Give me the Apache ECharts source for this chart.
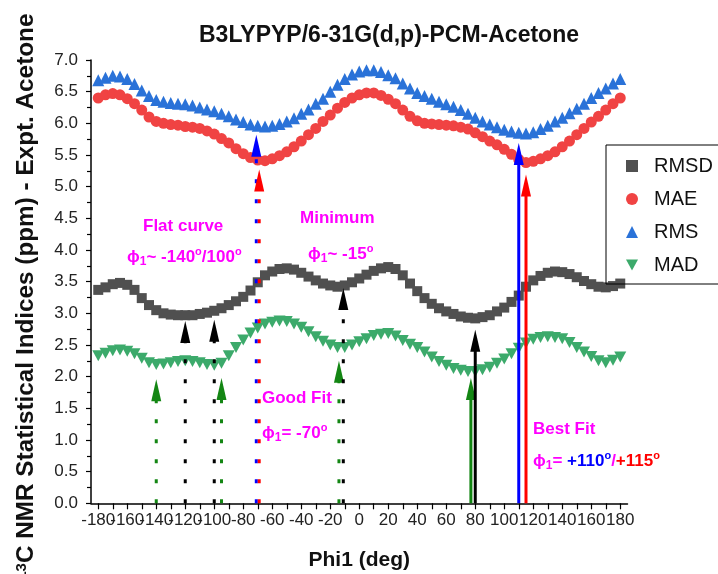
<!DOCTYPE html>
<html>
<head>
<meta charset="utf-8">
<script src="https://cdn.jsdelivr.net/npm/echarts@6/dist/echarts.min.js"></script>
<style>
  html, body { margin: 0; padding: 0; background: #fff; }
  #chart { width: 718px; height: 574px; }
</style>
</head>
<body>
<div id="chart"></div>
<script>
// Dihedral angle Phi1 (deg), scanned every 5 degrees
var phi = [-180,-175,-170,-165,-160,-155,-150,-145,-140,-135,-130,-125,-120,-115,-110,-105,-100,-95,-90,-85,-80,-75,-70,-65,-60,-55,-50,-45,-40,-35,-30,-25,-20,-15,-10,-5,0,5,10,15,20,25,30,35,40,45,50,55,60,65,70,75,80,85,90,95,100,105,110,115,120,125,130,135,140,145,150,155,160,165,170,175,180];

// Statistical indices (ppm) vs. experimental shifts in acetone
var rmsd = [3.37,3.41,3.46,3.48,3.45,3.37,3.24,3.13,3.05,3.00,2.98,2.97,2.97,2.97,2.99,3.01,3.04,3.08,3.13,3.19,3.26,3.36,3.49,3.60,3.66,3.70,3.71,3.69,3.64,3.58,3.52,3.47,3.44,3.42,3.44,3.49,3.55,3.61,3.67,3.71,3.73,3.70,3.60,3.47,3.35,3.24,3.15,3.08,3.03,2.99,2.95,2.93,2.92,2.94,2.97,3.03,3.09,3.18,3.28,3.42,3.52,3.59,3.64,3.66,3.65,3.62,3.57,3.51,3.46,3.42,3.41,3.43,3.47];
var mae = [6.40,6.45,6.47,6.45,6.39,6.31,6.21,6.10,6.03,6.00,5.98,5.97,5.95,5.94,5.92,5.88,5.83,5.76,5.69,5.60,5.52,5.46,5.42,5.41,5.44,5.49,5.55,5.63,5.72,5.82,5.92,6.03,6.13,6.24,6.33,6.40,6.45,6.48,6.48,6.44,6.38,6.31,6.21,6.11,6.04,6.00,5.99,5.98,5.97,5.96,5.94,5.91,5.85,5.79,5.72,5.66,5.59,5.51,5.43,5.38,5.40,5.44,5.49,5.55,5.63,5.72,5.82,5.92,6.02,6.11,6.21,6.31,6.40];
var rms = [6.68,6.72,6.75,6.74,6.70,6.62,6.52,6.43,6.37,6.34,6.32,6.31,6.30,6.28,6.25,6.22,6.19,6.15,6.11,6.06,6.02,5.98,5.96,5.95,5.96,5.99,6.03,6.08,6.15,6.22,6.31,6.39,6.50,6.61,6.70,6.77,6.82,6.84,6.84,6.81,6.76,6.71,6.63,6.55,6.48,6.43,6.39,6.34,6.30,6.26,6.21,6.15,6.09,6.03,5.98,5.94,5.90,5.87,5.85,5.84,5.86,5.91,5.96,6.03,6.09,6.16,6.23,6.31,6.40,6.48,6.55,6.63,6.70];
var mad = [2.33,2.37,2.41,2.42,2.40,2.36,2.29,2.22,2.19,2.20,2.22,2.24,2.25,2.24,2.22,2.19,2.18,2.21,2.33,2.46,2.58,2.69,2.77,2.83,2.86,2.88,2.87,2.83,2.78,2.71,2.63,2.56,2.50,2.46,2.46,2.50,2.55,2.60,2.65,2.67,2.68,2.64,2.57,2.51,2.46,2.39,2.31,2.24,2.18,2.13,2.10,2.08,2.08,2.11,2.15,2.21,2.28,2.36,2.45,2.53,2.59,2.62,2.63,2.62,2.60,2.54,2.46,2.39,2.32,2.25,2.22,2.26,2.31];

// Marker arrows pointing at the minima of each index
var arrowPhi    = [-140, -120, -100, -95, -71, -69, -14, -11, 77, 80, 110, 115];
var arrowTip    = [1.96, 2.88, 2.90, 1.98, 5.82, 5.27, 2.25, 3.40, 1.98, 2.74, 5.69, 5.19];
var arrowColor  = ['#138613', '#000000', '#000000', '#138613', '#0000ff', '#ff0000', '#138613', '#000000', '#138613', '#000000', '#0000ff', '#ff0000'];
var arrowDashed = [true, true, true, true, true, true, true, true, false, false, false, false];

// Axis tick positions (the two outer entries of the label list are blank end stops)
var xTickValues  = [-180,-170,-160,-150,-140,-130,-120,-110,-100,-90,-80,-70,-60,-50,-40,-30,-20,-10,0,10,20,30,40,50,60,70,80,90,100,110,120,130,140,150,160,170,180];
var xLabelValues = [-185,-180,-160,-140,-120,-100,-80,-60,-40,-20,0,20,40,60,80,100,120,140,160,180,185];

var seriesNames = ['RMSD', 'MAE', 'RMS', 'MAD'];
var seriesColors = ['#505050', '#f04343', '#2a72d8', '#3caa6b'];
var downTriangle = 'path://M0,0L10,0L5,9Z';

function pairs(ys) {
  return phi.map(function (p, i) { return [p, ys[i]]; });
}

var chart = echarts.init(document.getElementById('chart'), null, { renderer: 'canvas' });

var font = 'Arial, "Liberation Sans", Helvetica, sans-serif';
var magenta = '#ff00ff';

function tok(size, color, lh, va) {
  var s = { fontSize: size, fontWeight: 'bold', fontFamily: font, fill: color, lineHeight: lh };
  if (va) s.verticalAlign = va;
  return s;
}

var noteRich = {
  m:   tok(17, magenta, 22),
  sub: tok(12, magenta, 13, 'bottom'),
  sup: tok(11, magenta, 11, 'top'),
  bm:  tok(17, '#0000ff', 22),
  bs:  tok(11, '#0000ff', 11, 'top'),
  rm:  tok(17, '#ff0000', 22),
  rs:  tok(11, '#ff0000', 11, 'top')
};

function note(text, x, y) {
  return {
    type: 'text', left: x, top: y, z: 100,
    style: { text: text, fill: magenta, font: 'bold 17px ' + font }
  };
}

function richNote(text, x, y) {
  return {
    type: 'text', left: x, top: y, z: 100,
    style: { text: text, fill: magenta, rich: noteRich }
  };
}

var option = {
  backgroundColor: '#ffffff',
  animation: false,
  title: {
    text: 'B3LYPYP/6-31G(d,p)-PCM-Acetone',
    left: 199,
    top: 24,
    padding: 0,
    textStyle: { fontFamily: font, fontWeight: 'bold', fontSize: 23, color: '#111' }
  },
  legend: {
    orient: 'vertical',
    left: 606,
    top: 145,
    data: [
      { name: 'RMSD', icon: 'rect' },
      { name: 'MAE', icon: 'circle' },
      { name: 'RMS', icon: 'triangle' },
      { name: 'MAD', icon: downTriangle }
    ],
    itemWidth: 12,
    itemHeight: 12,
    itemGap: 13,
    padding: [11, 6, 9, 20],
    borderColor: '#000',
    borderWidth: 1,
    borderRadius: 0,
    textStyle: { fontFamily: font, fontSize: 20, color: '#111', padding: [0, 0, 0, 11] }
  },
  grid: { left: 91, right: 90.5, top: 60, bottom: 70.7, containLabel: false, outerBoundsMode: 'none' },
  xAxis: {
    type: 'value',
    min: -185,
    max: 185,
    name: 'Phi1 (deg)',
    nameLocation: 'middle',
    nameGap: 46,
    nameTextStyle: { fontFamily: font, fontWeight: 'bold', fontSize: 21, color: '#111' },
    splitLine: { show: false },
    axisLine: { show: true, onZero: false, lineStyle: { color: '#000', width: 1.5 } },
    axisTick: { show: true, length: 6, customValues: xTickValues, lineStyle: { color: '#000', width: 1.2 } },
    axisLabel: {
      customValues: xLabelValues, hideOverlap: false,
      margin: 9, fontFamily: font, fontSize: 17, color: '#222',
      formatter: function (v) { return Math.abs(v) > 180 ? '' : String(v); }
    }
  },
  yAxis: {
    type: 'value',
    min: 0,
    max: 7,
    interval: 0.5,
    name: '{s|13}C NMR Statistical Indices (ppm) - Expt. Acetone',
    nameLocation: 'middle',
    nameGap: 53,
    nameTextStyle: {
      fontFamily: font, fontWeight: 'bold', fontSize: 24.3, color: '#111',
      padding: [0, 30, 0, 0],
      rich: { s: { fontFamily: font, fontWeight: 'bold', fontSize: 15, color: '#111', verticalAlign: 'top', lineHeight: 15 } }
    },
    splitLine: { show: false },
    axisLine: { show: true, onZero: false, lineStyle: { color: '#000', width: 1.5 } },
    axisTick: { show: true, length: 5, lineStyle: { color: '#000', width: 1.2 } },
    minorTick: { show: true, splitNumber: 2, length: 4, lineStyle: { color: '#000', width: 1.2 } },
    axisLabel: {
      margin: 13, fontFamily: font, fontSize: 17, color: '#222',
      formatter: function (v) { return v.toFixed(1); }
    }
  },
  series: [
    {
      name: 'RMSD', type: 'scatter', data: pairs(rmsd),
      symbol: 'rect', symbolSize: 10,
      itemStyle: { color: seriesColors[0], opacity: 1 }, z: 2
    },
    {
      name: 'MAE', type: 'scatter', data: pairs(mae),
      symbol: 'circle', symbolSize: 11,
      itemStyle: { color: seriesColors[1], opacity: 1 }, z: 2
    },
    {
      name: 'RMS', type: 'scatter', data: pairs(rms),
      symbol: 'triangle', symbolSize: 12,
      itemStyle: { color: seriesColors[2], opacity: 1 }, z: 2
    },
    {
      name: 'MAD', type: 'scatter', data: pairs(mad),
      symbol: downTriangle, symbolSize: [12, 11],
      itemStyle: { color: seriesColors[3], opacity: 1 }, z: 2
    },
    {
      name: 'arrows', type: 'custom', z: 5,
      silent: true,
      data: arrowPhi.map(function (p, i) { return [p, arrowTip[i]]; }),
      encode: { x: 0, y: 1 },
      renderItem: function (params, api) {
        var i = params.dataIndex;
        var base = api.coord([api.value(0), 0]);
        var tip = api.coord([api.value(0), api.value(1)]);
        var color = arrowColor[i];
        var headH = 22, headW = 10;
        return {
          type: 'group',
          children: [
            {
              type: 'line',
              shape: { x1: base[0], y1: base[1], x2: tip[0], y2: tip[1] + headH - 2 },
              style: { stroke: color, lineWidth: 3, lineDash: arrowDashed[i] ? [4, 16] : null }
            },
            {
              type: 'polygon',
              shape: { points: [[tip[0], tip[1]], [tip[0] - headW / 2, tip[1] + headH], [tip[0] + headW / 2, tip[1] + headH]] },
              style: { fill: color }
            }
          ]
        };
      }
    }
  ],
  graphic: [
    note('Flat curve', 143, 218),
    richNote('{m|ϕ}{sub|1}{m|~ -140}{sup|o}{m|/100}{sup|o}', 127, 246),
    note('Minimum', 300, 210),
    richNote('{m|ϕ}{sub|1}{m|~ -15}{sup|o}', 308, 243),
    note('Good Fit', 262, 390),
    richNote('{m|ϕ}{sub|1}{m|= -70}{sup|o}', 262, 422),
    note('Best Fit', 533, 421),
    richNote('{m|ϕ}{sub|1}{m|= }{bm|+110}{bs|o}{m|/}{rm|+115}{rs|o}', 533, 450)
  ]
};

chart.setOption(option);
</script>
</body>
</html>
